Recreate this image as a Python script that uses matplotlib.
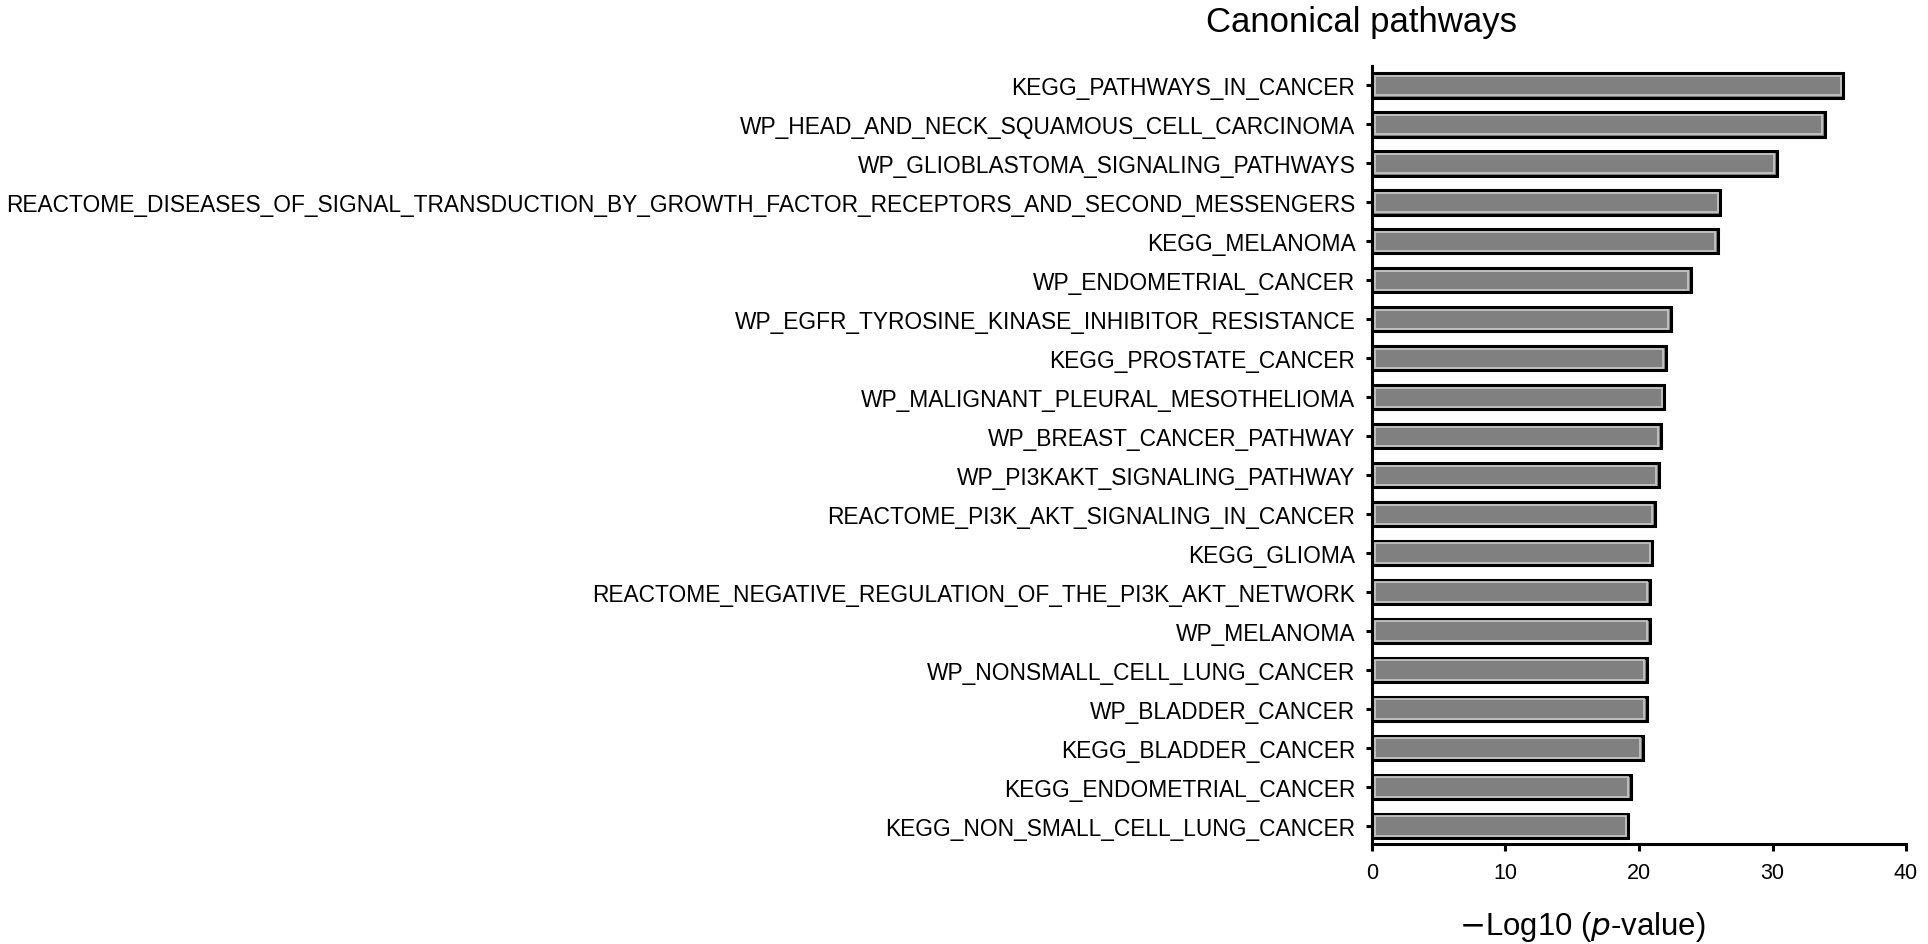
import matplotlib
matplotlib.use('Agg')
import matplotlib.pyplot as plt
import numpy as np

plt.rcParams['font.family'] = ['Liberation Sans', 'DejaVu Sans']

pathways = [
    'KEGG_PATHWAYS_IN_CANCER',
    'WP_HEAD_AND_NECK_SQUAMOUS_CELL_CARCINOMA',
    'WP_GLIOBLASTOMA_SIGNALING_PATHWAYS',
    'REACTOME_DISEASES_OF_SIGNAL_TRANSDUCTION_BY_GROWTH_FACTOR_RECEPTORS_AND_SECOND_MESSENGERS',
    'KEGG_MELANOMA',
    'WP_ENDOMETRIAL_CANCER',
    'WP_EGFR_TYROSINE_KINASE_INHIBITOR_RESISTANCE',
    'KEGG_PROSTATE_CANCER',
    'WP_MALIGNANT_PLEURAL_MESOTHELIOMA',
    'WP_BREAST_CANCER_PATHWAY',
    'WP_PI3KAKT_SIGNALING_PATHWAY',
    'REACTOME_PI3K_AKT_SIGNALING_IN_CANCER',
    'KEGG_GLIOMA',
    'REACTOME_NEGATIVE_REGULATION_OF_THE_PI3K_AKT_NETWORK',
    'WP_MELANOMA',
    'WP_NONSMALL_CELL_LUNG_CANCER',
    'WP_BLADDER_CANCER',
    'KEGG_BLADDER_CANCER',
    'KEGG_ENDOMETRIAL_CANCER',
    'KEGG_NON_SMALL_CELL_LUNG_CANCER',
]
neg_log_p = [35.3, 33.9, 30.3, 26.1, 25.9, 23.9, 22.4, 22.0, 21.9, 21.65,
             21.5, 21.2, 21.0, 20.8, 20.8, 20.6, 20.6, 20.3, 19.4, 19.2]
xticks = [0, 10, 20, 30, 40]

fig = plt.figure(figsize=(19.28, 9.45), dpi=100)
ax = fig.add_axes([0.7116, 0.1058, 0.2770, 0.8233])

pos = np.arange(len(pathways))
vals = np.array(neg_log_p)

# outer bar with thick black outline
ax.barh(pos, vals, height=0.62, color='#808080', edgecolor='black',
        linewidth=2.2, zorder=2)
# light inner rim, gives the bevelled look
ax.barh(pos, vals - 0.4, left=0.2, height=0.5, facecolor='none',
        edgecolor='#c4c4c4', linewidth=1.3, zorder=3)

ax.set_yticks(pos)
ax.set_yticklabels(pathways, fontsize=16.4)
ax.set_ylim(19.46, -0.5)
ax.set_xlim(0, 40)
ax.set_xticks(xticks)
ax.set_xticklabels([str(t) for t in xticks], fontsize=15.5)

for s in ['top', 'right']:
    ax.spines[s].set_visible(False)
for s in ['left', 'bottom']:
    ax.spines[s].set_linewidth(2.2)
ax.tick_params(axis='y', direction='out', length=4, width=2.2, pad=8)
ax.tick_params(axis='x', direction='out', length=5, width=2.2, pad=8)

fig.text(0.706, 0.966, 'Canonical pathways', fontsize=25,
         ha='center', va='baseline')
fig.text(0.8208, 0.011, r'$-$Log10 ($\it{p}$-value)', fontsize=22.4,
         ha='center', va='baseline')

fig.savefig('out.png', dpi=100)
